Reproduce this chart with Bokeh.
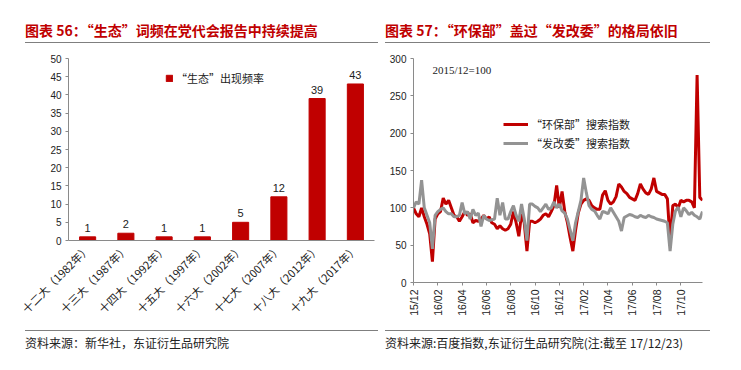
import math
import pandas as pd
from bokeh.plotting import figure
from bokeh.models import (Div, ColumnDataSource, FactorRange, Range1d, LabelSet,
                          Label, FixedTicker)
from bokeh.layouts import row, column
from bokeh.embed import file_html
from bokeh.resources import INLINE
from bokeh.core.properties import value

# ---------------- data ----------------
congress = ["十二大（1982年）", "十三大（1987年）", "十四大（1992年）", "十五大（1997年）",
            "十六大（2002年）", "十七大（2007年）", "十八大（2012年）", "十九大（2017年）"]
freq = [1, 2, 1, 1, 5, 12, 39, 43]

weeks = pd.date_range("2015-12-05", periods=108, freq="7D")
hbb = [100, 92, 88, 100, 88, 78, 65, 28, 85, 92,
       95, 113, 105, 110, 100, 90, 88, 82, 88, 95,
       90, 92, 80, 83, 82, 85, 90, 85, 88, 80,
       78, 72, 76, 72, 70, 72, 78, 95, 80, 62,
       92, 80, 42, 82, 82, 80, 82, 85, 90, 92,
       88, 95, 103, 130, 100, 122, 95, 80, 60, 42,
       70, 93, 105, 110, 112, 110, 103, 100, 98, 98,
       117, 123, 110, 105, 108, 115, 132, 128, 122, 119,
       114, 112, 110, 119, 132, 125, 120, 118, 125, 140,
       122, 120, 118, 118, 112, 55, 103, 105, 100, 110,
       108, 110, 110, 108, 100, 278, 114, 110]
fgw = [100, 108, 105, 137, 100, 90, 80, 45, 90, 95,
       98, 100, 95, 92, 92, 88, 88, 90, 107, 92,
       95, 85, 98, 90, 93, 75, 90, 85, 83, 84,
       85, 113, 90, 107, 85, 85, 95, 103, 90, 82,
       105, 85, 56, 105, 105, 102, 100, 95, 100, 105,
       98, 100, 108, 100, 105, 96, 93, 85, 70, 56,
       80, 95, 110, 140, 120, 103, 98, 96, 90, 85,
       95, 94, 92, 100, 94, 88, 82, 69, 87, 89,
       91, 90, 88, 87, 90, 88, 87, 90, 88, 87,
       85, 84, 83, 82, 80, 42, 78, 96, 101, 88,
       100, 96, 91, 94, 90, 88, 85, 95]
tick_idx = list(range(0, 108, 9))

RED = "#C00000"
GRAY = "#939393"
AXIS = "#8a8a8a"
CJK = "Noto Sans CJK SC"
SANS = "Liberation Sans"


def style_axes(p):
    for ax in (p.xaxis[0], p.yaxis[0]):
        ax.axis_line_color = AXIS
        ax.major_tick_line_color = AXIS
        ax.major_tick_out = 3
        ax.major_tick_in = 0
        ax.minor_tick_line_color = None
        ax.major_label_text_color = "#222222"
        ax.major_label_text_font = SANS
        ax.major_label_text_font_size = "10px"
        ax.major_label_standoff = 4
    p.xgrid.grid_line_color = None
    p.ygrid.grid_line_color = None
    p.outline_line_color = None
    p.background_fill_color = "white"
    p.border_fill_color = "white"


def title_div(text, w, ml, lw):
    html = (f'<div style="margin:0 0 0 {ml}px;width:{lw}px;height:43px;box-sizing:border-box;'
            f'border-bottom:1px solid #7f7f7f;padding-top:22px;line-height:16px;'
            f'font-family:\'{CJK}\';font-size:14px;font-weight:bold;color:{RED};white-space:nowrap">'
            f'{text}</div>')
    return Div(text=html, width=w, height=45, margin=0)


def foot_div(text, w, ml, lw):
    html = (f'<div style="margin:5px 0 0 {ml}px;width:{lw}px;box-sizing:border-box;'
            f'border-top:1px solid #7f7f7f;padding-top:5px;line-height:14px;'
            f'font-family:\'{CJK}\';font-size:12px;color:#222;white-space:nowrap">'
            f'{text}</div>')
    return Div(text=html, width=w, height=30, margin=0)


# ---------------- left chart ----------------
src1 = ColumnDataSource(dict(cat=congress, val=freq, lab=[str(v) for v in freq]))
p1 = figure(x_range=FactorRange(factors=congress), y_range=Range1d(0, 50),
            width=380, height=280, output_backend="svg", toolbar_location=None, margin=0,
            min_border_left=68, min_border_right=6, min_border_top=13, min_border_bottom=85)
p1.vbar(x="cat", top="val", width=0.42, source=src1, fill_color=RED, line_color=RED,
        legend_label="“生态”出现频率")
p1.add_layout(LabelSet(x="cat", y="val", text="lab", source=src1, y_offset=5,
                       text_align="center", text_baseline="bottom",
                       text_font=value(SANS), text_font_size="11px", text_color="#222222"))
style_axes(p1)
p1.yaxis.ticker = FixedTicker(ticks=list(range(0, 51, 5)))
p1.xaxis.major_label_orientation = math.pi / 4
p1.xaxis.major_label_text_font = CJK
p1.xaxis.major_label_text_font_size = "11px"
p1.xaxis.major_tick_out = 0
p1.xaxis.major_label_standoff = 6
lg1 = p1.legend[0]
lg1.location = (97, 154)
lg1.orientation = "vertical"
lg1.glyph_width = 8
lg1.glyph_height = 8
lg1.label_height = 12
lg1.label_standoff = 3
lg1.padding = 0
lg1.margin = 0
lg1.border_line_color = None
lg1.background_fill_alpha = 0
lg1.label_text_font = CJK
lg1.label_text_font_size = "11px"
lg1.label_text_color = "#222222"

# ---------------- right chart ----------------
src2 = ColumnDataSource(dict(i=list(range(len(weeks))), hbb=hbb, fgw=fgw))
p2 = figure(x_range=Range1d(0, len(weeks) - 1), y_range=Range1d(0, 300),
            width=353, height=280, output_backend="svg", toolbar_location=None, margin=0,
            min_border_left=33, min_border_right=31, min_border_top=13, min_border_bottom=43)
r_red = p2.line("i", "hbb", source=src2, line_color=RED, line_width=3, legend_label="“环保部”搜索指数")
r_gray = p2.line("i", "fgw", source=src2, line_color=GRAY, line_width=3, legend_label="“发改委”搜索指数")
style_axes(p2)
p2.yaxis.ticker = FixedTicker(ticks=list(range(0, 301, 50)))
p2.xaxis.ticker = FixedTicker(ticks=tick_idx)
p2.xaxis.major_label_overrides = {i: weeks[i].strftime("%y/%m") for i in tick_idx}
p2.xaxis.major_label_orientation = math.pi / 2
p2.xaxis.major_label_text_font_size = "10.5px"
lg2 = p2.legend[0]
lg2.location = (90, 131)
lg2.glyph_width = 25
lg2.glyph_height = 14
lg2.label_height = 14
lg2.spacing = 3
lg2.label_standoff = 3
lg2.padding = 0
lg2.margin = 0
lg2.border_line_color = None
lg2.background_fill_alpha = 0
lg2.label_text_font = CJK
lg2.label_text_font_size = "11px"
lg2.label_text_color = "#222222"
p2.add_layout(Label(x=19, y=213, x_units="screen", y_units="screen", text="2015/12=100",
                    text_font="Liberation Serif", text_font_size="11px", text_color="#222222",
                    text_baseline="middle"))

left = column(title_div("图表 56：“生态”词频在党代会报告中持续提高", 380, 25, 353), p1,
              foot_div("资料来源：新华社，东证衍生品研究院", 380, 25, 353), spacing=0, margin=0)
right = column(title_div("图表 57：“环保部”盖过“发改委”的格局依旧", 353, 5, 325), p2,
               foot_div("资料来源:百度指数,东证衍生品研究院(注:截至 17/12/23)", 353, 5, 325),
               spacing=0, margin=0)
layout = row(left, right, spacing=0, margin=0)

open("out.html", "w").write(file_html(layout, INLINE))
